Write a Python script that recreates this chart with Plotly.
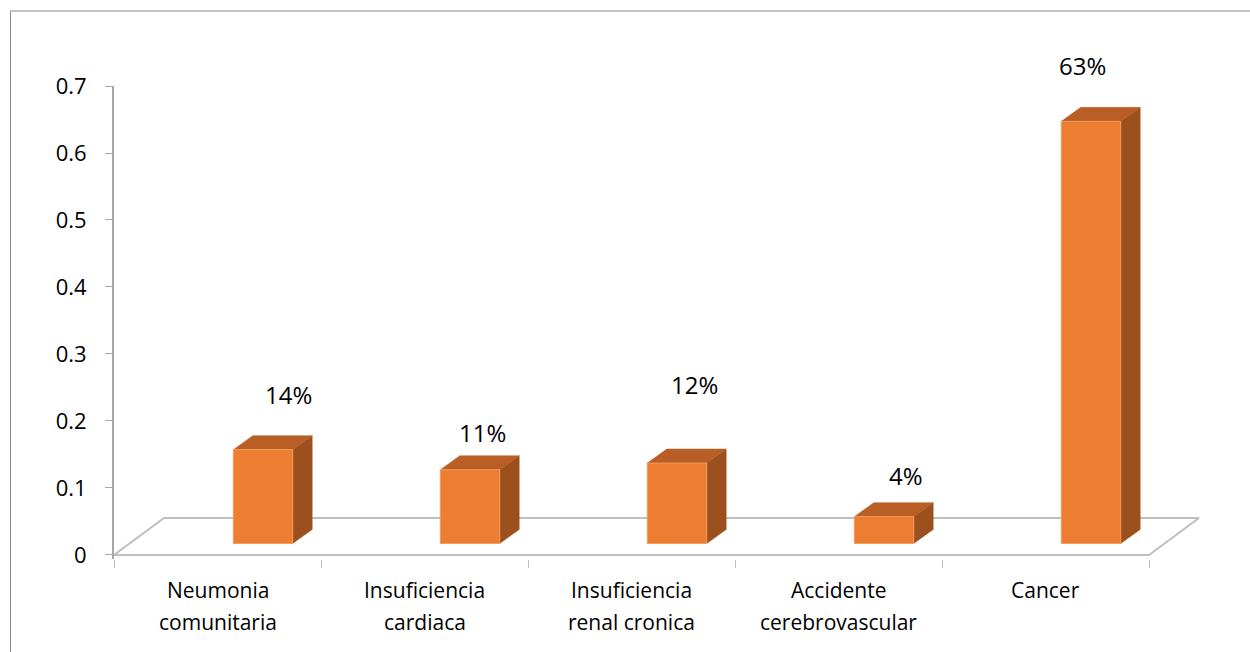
import plotly.graph_objects as go

# ---------------- data ----------------
categories = [
    "Neumonia<br>comunitaria",
    "Insuficiencia<br>cardiaca",
    "Insuficiencia<br>renal cronica",
    "Accidente<br>cerebrovascular",
    "Cancer",
]
values = [0.14, 0.11, 0.12, 0.04, 0.63]
value_labels = ["14%", "11%", "12%", "4%", "63%"]
y_tick_vals = [0, 0.1, 0.2, 0.3, 0.4, 0.5, 0.6, 0.7]
y_tick_text = ["0", "0.1", "0.2", "0.3", "0.4", "0.5", "0.6", "0.7"]

# ---------------- style / pseudo-3D geometry ----------------
W, H = 1250, 652
ML, MR, MT, MB = 114, 48, 86, 93
BAR_SHIFT = 0.22      # front face shift from category centre (x units)
BAR_W = 0.287         # front face width (x units)
BASE = 0.0172         # bar base raised by perspective (y units)
DX, DY = 0.094, 0.0209          # bar depth
FLOOR_DX, FLOOR_DY = 0.2415, 0.0553
label_shift_px = [(16, 41), (3, 23), (8, 65), (12, 27), (-18, 42)]
FRONT = "#ED7D31"
SIDE = "#9B501E"
TOP = "#B95E24"
GRID = "#BFBFBF"
FONT = "Open Sans"

n = len(categories)
fig = go.Figure()

# floor
fig.add_trace(go.Scatter(
    x=[-0.5, n - 0.5, n - 0.5 + FLOOR_DX, -0.5 + FLOOR_DX, -0.5],
    y=[0, 0, FLOOR_DY, FLOOR_DY, 0],
    mode="lines", line=dict(color=GRID, width=2),
    hoverinfo="skip", showlegend=False))

fx, fy, sx, sy, tx, ty = [], [], [], [], [], []
for i, v in enumerate(values):
    xl = i + BAR_SHIFT - BAR_W / 2
    xr = i + BAR_SHIFT + BAR_W / 2
    top = BASE + v
    fx += [xl, xr, xr, xl, xl, None]
    fy += [BASE, BASE, top, top, BASE, None]
    sx += [xr, xr + DX, xr + DX, xr, xr, None]
    sy += [BASE, BASE + DY, top + DY, top, BASE, None]
    tx += [xl, xr, xr + DX, xl + DX, xl, None]
    ty += [top, top, top + DY, top + DY, top, None]

fig.add_trace(go.Scatter(x=sx, y=sy, mode="lines", fill="toself",
                         fillcolor=SIDE, line=dict(color=SIDE, width=0.5),
                         hoverinfo="skip", showlegend=False))
fig.add_trace(go.Scatter(x=tx, y=ty, mode="lines", fill="toself",
                         fillcolor=TOP, line=dict(color=TOP, width=0.5),
                         hoverinfo="skip", showlegend=False))
fig.add_trace(go.Scatter(x=fx, y=fy, mode="lines", fill="toself",
                         fillcolor=FRONT, line=dict(color="#F29A5C", width=1),
                         hoverinfo="skip", showlegend=False))

annotations = []
# value labels
for i, (v, lab) in enumerate(zip(values, value_labels)):
    xs, ys = label_shift_px[i]
    annotations.append(dict(
        x=i + BAR_SHIFT + DX / 2, y=BASE + v + DY, xref="x", yref="y",
        text=lab, showarrow=False, xanchor="center", yanchor="middle",
        xshift=xs, yshift=ys, font=dict(family=FONT, size=24, color="black")))

# category labels (two lines each)
for i, cat in enumerate(categories):
    lines = cat.split("<br>")
    for j, line in enumerate(lines):
        annotations.append(dict(
            x=i, y=0, xref="x", yref="y", text=line, showarrow=False,
            xanchor="center", yanchor="middle", yshift=-35 - 32.5 * j,
            font=dict(family=FONT, size=21, color="black")))

pw = W - ML - MR
ph = H - MT - MB
border = dict(type="rect", xref="paper", yref="paper",
              x0=(10.5 - ML) / pw, x1=(W + 20 - ML) / pw,
              y0=-(MB + 20) / ph, y1=(H - MB - 11) / ph,
              line=dict(color="#8C8C8C", width=1), fillcolor="rgba(0,0,0,0)",
              layer="below")

fig.update_layout(
    width=W, height=H,
    margin=dict(l=ML, r=MR, t=MT, b=MB, pad=0),
    paper_bgcolor="white", plot_bgcolor="white",
    showlegend=False,
    annotations=annotations,
    shapes=[border],
    xaxis=dict(range=[-0.5, -0.5 + pw / 207.0], showgrid=False, zeroline=False,
               showline=False, tickvals=[k - 0.5 for k in range(n + 1)],
               ticks="outside", ticklen=8, tickcolor=GRID, tickwidth=1,
               showticklabels=False, fixedrange=True),
    yaxis=dict(range=[-0.006, 0.7], showgrid=False, zeroline=False,
               showline=True, linecolor="#A6A6A6", linewidth=2,
               tickvals=y_tick_vals, ticktext=y_tick_text,
               ticks="outside", ticklen=7, tickcolor="#A6A6A6", tickwidth=1,
               ticklabelstandoff=14,
               tickfont=dict(family=FONT, size=22, color="black"),
               fixedrange=True),
)

fig.write_html("out.html")
